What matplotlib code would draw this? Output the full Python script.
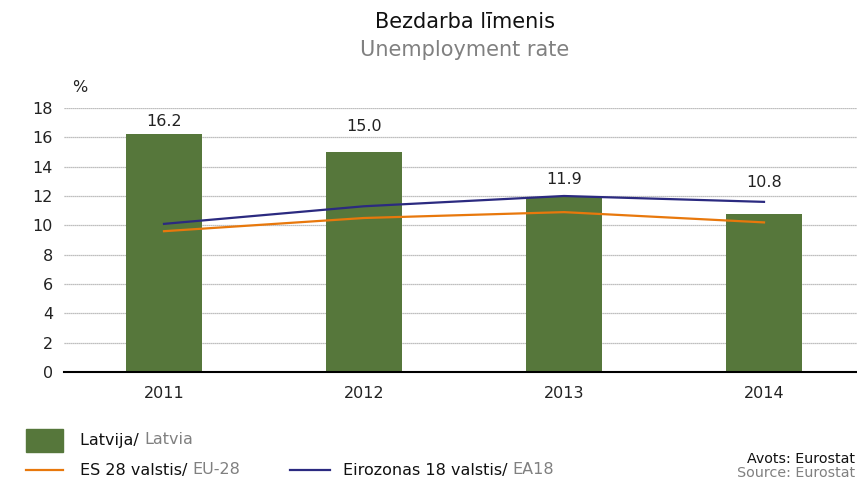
import numpy as np
import matplotlib
matplotlib.use("Agg")
import matplotlib.pyplot as plt
from matplotlib.patches import Rectangle
from matplotlib.lines import Line2D

plt.rcParams['font.family'] = ['DejaVu Sans']

# dati
years = ["2011", "2012", "2013", "2014"]
latvia = [16.2, 15.0, 11.9, 10.8]
eu28 = [9.6, 10.5, 10.9, 10.2]
ea18 = [10.1, 11.3, 12.0, 11.6]
label_y = [17.05, 16.72, 13.14, 12.93]  # vērtību uzrakstu augstums

green = "#56773b"
orange = "#e8780c"
navy = "#2b2a80"
gray = "#808080"

fig = plt.figure(figsize=(8.57, 4.8), dpi=100)
ax = fig.add_axes([64 / 857, 1 - 372 / 480, 1 - 64 / 857, 264 / 480])

x = np.arange(len(years))
ax.bar(x, latvia, width=0.38, color=green, zorder=2)
ax.plot(x, eu28, color=orange, lw=1.6, zorder=3)
ax.plot(x, ea18, color=navy, lw=1.6, zorder=3)

for xi, v, ly in zip(x, latvia, label_y):
    ax.text(xi, ly, f"{v:.1f}", ha="center", va="center", fontsize=11.5, color="#222222")

ax.set_xlim(-0.5, 3.465)
ax.set_ylim(0, 18)
ax.set_yticks(range(0, 19, 2))
ax.set_xticks(x)
ax.set_xticklabels(years)
ax.tick_params(axis="both", length=0, labelsize=11.5, colors="#222222")
ax.tick_params(axis="y", pad=8)
ax.tick_params(axis="x", pad=10)
ax.grid(axis="y", color="#aaaaaa", ls=(0, (1, 0.6)), lw=0.9, zorder=0)
for s in ["left", "right", "top"]:
    ax.spines[s].set_visible(False)
ax.spines["bottom"].set_color("black")
ax.spines["bottom"].set_linewidth(1.5)
ax.spines["bottom"].set_zorder(4)

fig.text(72 / 857, 1 - 87 / 480, "%", fontsize=11.5, ha="left", va="center", color="#222222")
fig.text(465 / 857, 1 - 22 / 480, "Bezdarba līmenis", fontsize=15, ha="center", va="center", color="#111111")
fig.text(465 / 857, 1 - 50 / 480, "Unemployment rate", fontsize=15, ha="center", va="center", color=gray)

# leģenda
fig.patches.append(Rectangle((26 / 857, 1 - 452 / 480), 37 / 857, 23 / 480,
                             transform=fig.transFigure, color=green, figure=fig))
fig.lines.append(Line2D([26 / 857, 63 / 857], [1 - 470 / 480] * 2, transform=fig.transFigure,
                        color=orange, lw=1.6, figure=fig))
fig.lines.append(Line2D([290 / 857, 330 / 857], [1 - 470 / 480] * 2, transform=fig.transFigure,
                        color=navy, lw=1.6, figure=fig))

renderer = fig.canvas.get_renderer()


def two_tone(xp, yp, first, second, size=11.5):
    t1 = fig.text(xp / 857, 1 - yp / 480, first, fontsize=size, color="#111111", va="center")
    t2 = fig.text(0, 1 - yp / 480, second, fontsize=size, color=gray, va="center")
    w1 = t1.get_window_extent(renderer).width
    t2.set_x((xp + w1) / 857)


two_tone(80, 440, "Latvija/ ", "Latvia")
two_tone(80, 470, "ES 28 valstis/ ", "EU-28")
two_tone(343, 470, "Eirozonas 18 valstis/ ", "EA18")
fig.text(855 / 857, 1 - 459 / 480, "Avots: Eurostat", fontsize=10.3, color="#111111", va="center", ha="right")
fig.text(855 / 857, 1 - 473 / 480, "Source: Eurostat", fontsize=10.3, color=gray, va="center", ha="right")

fig.savefig("out.png", dpi=100)
